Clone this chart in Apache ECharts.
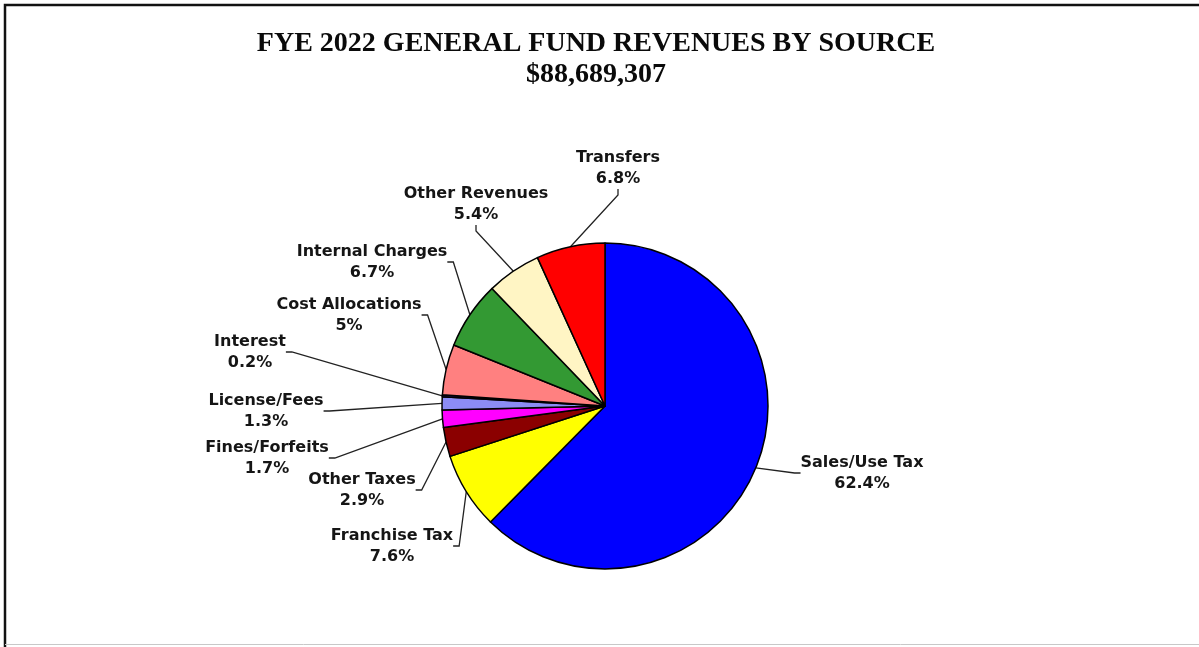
<!DOCTYPE html>
<html>
<head>
<meta charset="utf-8">
<title>FYE 2022 General Fund Revenues by Source</title>
<script src="https://cdn.jsdelivr.net/npm/echarts@6/dist/echarts.min.js"></script>
<style>
  html, body { margin: 0; padding: 0; background: #ffffff; }
  #chart { width: 1199px; height: 647px; }
</style>
</head>
<body>
<div id="chart"></div>
<script>
// Revenue sources, clockwise from 12 o'clock
const sources = [
  'Sales/Use Tax', 'Franchise Tax', 'Other Taxes', 'Fines/Forfeits', 'License/Fees',
  'Interest', 'Cost Allocations', 'Internal Charges', 'Other Revenues', 'Transfers'
];
// Share of total revenue, percent
const shares = [62.4, 7.6, 2.9, 1.7, 1.3, 0.2, 5, 6.7, 5.4, 6.8];
const sliceColors = [
  '#0000ff', '#ffff00', '#8b0000', '#ff00ff', '#8c8cf5',
  '#1a1a6e', '#ff8080', '#339933', '#fff5c4', '#ff0000'
];
const totalRevenue = '$88,689,307';

// Where each two-line label block sits (centre of the block)
const labelSpots = [
  [862, 473], [392, 546], [362, 490], [267, 458], [266, 411],
  [250, 352], [349, 315], [372, 262], [476, 204], [618, 168]
];

const chart = echarts.init(document.getElementById('chart'), null, { renderer: 'canvas' });

chart.setOption({
  backgroundColor: '#ffffff',
  animation: false,
  title: {
    text: 'FYE 2022 GENERAL FUND REVENUES BY SOURCE\n' + totalRevenue,
    left: 591,
    top: 23,
    textAlign: 'center',
    textStyle: {
      fontFamily: '"Liberation Serif", "Times New Roman", serif',
      fontWeight: 'bold',
      fontSize: 28,
      lineHeight: 31,
      color: '#0a0a0a'
    }
  },
  graphic: [
    {
      type: 'polyline',
      silent: true,
      shape: { points: [[1199, 5], [5, 5], [5, 647]] },
      style: { stroke: '#111111', lineWidth: 2.5, fill: null }
    },
    {
      type: 'line',
      silent: true,
      shape: { x1: 5, y1: 644.5, x2: 1199, y2: 644.5 },
      style: { stroke: '#c8c8c8', lineWidth: 1 }
    }
  ],
  series: [{
    type: 'pie',
    center: [605, 406],
    radius: 163,
    startAngle: 90,
    clockwise: true,
    minAngle: 0,
    avoidLabelOverlap: false,
    data: sources.map((name, i) => ({
      name: name,
      value: shares[i],
      itemStyle: { color: sliceColors[i] }
    })),
    itemStyle: { borderColor: '#000000', borderWidth: 1.5 },
    label: {
      show: true,
      position: 'outside',
      formatter: p => p.name + '\n' + p.value + '%',
      fontFamily: '"DejaVu Sans", Verdana, sans-serif',
      fontWeight: 'bold',
      fontSize: 16,
      lineHeight: 21,
      color: '#151515',
      align: 'center'
    },
    labelLine: {
      show: true,
      length: 10,
      length2: 6,
      lineStyle: { color: '#222222', width: 1.3 }
    },
    labelLayout: function (params) {
      const spot = labelSpots[params.dataIndex];
      return {
        x: spot[0],
        y: spot[1],
        align: 'center',
        verticalAlign: 'middle',
        hideOverlap: false
      };
    },
    emphasis: { disabled: true }
  }]
});
</script>
</body>
</html>
